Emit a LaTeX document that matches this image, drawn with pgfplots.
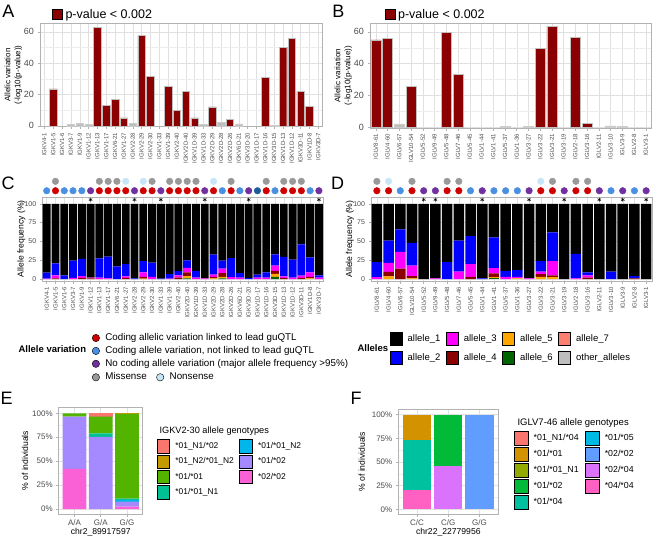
\documentclass[border=0pt]{standalone}
\usepackage{fontspec}
\setmainfont{Liberation Sans}
\usepackage{pgfplots}
\usepackage{pgfplotstable}
\pgfplotsset{compat=1.18}

\definecolor{sigred}{HTML}{8B0000}
\definecolor{nsgray}{HTML}{BEBEBE}
\definecolor{dotred}{HTML}{D00000}
\definecolor{dotblue}{HTML}{4A90E2}
\definecolor{dotpurple}{HTML}{7030A0}
\definecolor{dotdark}{HTML}{1E5C99}
\definecolor{dotgray}{HTML}{999999}
\definecolor{dotlight}{HTML}{C6E6F8}
\definecolor{alA}{HTML}{000000}
\definecolor{alB}{HTML}{0000FF}
\definecolor{alC}{HTML}{FF00FF}
\definecolor{alD}{HTML}{8B0000}
\definecolor{alE}{HTML}{FFA500}
\definecolor{alF}{HTML}{006400}
\definecolor{alG}{HTML}{FA8072}
\definecolor{alO}{HTML}{BEBEBE}
\definecolor{eA}{HTML}{F8766D}
\definecolor{eB}{HTML}{C49A00}
\definecolor{eC}{HTML}{53B400}
\definecolor{eD}{HTML}{00C094}
\definecolor{eE}{HTML}{00B6EB}
\definecolor{eF}{HTML}{A58AFF}
\definecolor{eG}{HTML}{FB61D7}
\definecolor{fA}{HTML}{F8766D}
\definecolor{fB}{HTML}{D39200}
\definecolor{fC}{HTML}{93AA00}
\definecolor{fD}{HTML}{00BA38}
\definecolor{fE}{HTML}{00C19F}
\definecolor{fF}{HTML}{00B9E3}
\definecolor{fG}{HTML}{619CFF}
\definecolor{fH}{HTML}{DB72FB}
\definecolor{fI}{HTML}{FF61C3}

\pgfplotsset{
  gg/.style={
    scale only axis,
    enlargelimits=false,
    axis line style={draw=black!30, line width=0.7pt},
    tick style={draw=black!30, line width=0.5pt},
    tick align=outside,
    tick pos=left,
    major tick length=2.5pt,
    minor tick length=0pt,
    major grid style={draw=black!12, line width=0.45pt},
    minor grid style={draw=black!7, line width=0.3pt},
    tick label style={text=black!70},
    /pgf/number format/assume math mode=true,
  },
  legaxis/.style={
    hide axis, scale only axis, width=1pt, height=1pt,
    xmin=0, xmax=1, ymin=0, ymax=1, anchor=north west,
    legend cell align=left,
    legend style={at={(0,1)}, anchor=north west, draw=none, fill=none,
      inner sep=0pt, outer sep=0pt, column sep=0pt, text=black},
  },
}

\pgfplotstableread{
i a6 a5 a4 a3 a2 a1
1 0 0 0 0.5 8 91.5
2 0 0 1 4 16 79
3 0 0 0 0 5 95
4 0 0 0 1.5 23 75.5
5 0 0 1.5 2.5 23 73
6 0 0 1 1 0 98
7 0 0 0 2 25.5 72.5
8 0 0 0 1 29 70
9 0 0 0 0 17 83
10 0 0 1.5 2 16.5 80
11 0 0 0 0 1 99
12 0 0.5 2.5 6 15 76
13 0 0 0 3 19 78
14 0 0 0 0 0.5 99.5
15 0 0 0 0.5 6 93.5
16 0 0 2 3 5.5 89.5
17 1 3 5 6 10 75
18 0 0 0 2 9 89
19 0 0 0 1 0 99
20 0 1 2 3 26.5 67.5
21 1 2 5 6 10.5 75.5
22 0 0 0 2.5 25.5 72
23 0 0 0 2 6 92
24 0 0 0 0 1.5 98.5
25 0 0 0 2 4 94
26 0 0 0 2 7 91
27 3 4 4 7 15 67
28 0 0 1.5 2 26 70.5
29 0 0 0 2 24 74
30 0 0 1.5 3 41.5 54
31 0 1 2 6 20 71
32 0 0 0 2 3 95
}\Ctab

\pgfplotstableread{
i a6 a5 a4 a3 a2 a1
1 0 0 0 2.5 20 77.5
2 0 3.5 6 12 29.5 49
3 0 0 14 22 30 34
4 0 1 3 14 30 52
5 0 0 0 0 0 100
6 0 0 0 1 0 99
7 0 0 0 0 22.5 77.5
8 0 0 0 10 41 49
9 0 0 3 17 37 43
10 0 0 0 0 1 99
11 1 1.5 5 7 41 44.5
12 0 0 0 3 8 89
13 0 1 0 2 9 88
14 0 0 0 1 0 99
15 0 3 3.5 3.5 14 76
16 0 2.5 2.5 19 38 38
17 0 0 0 0 0 100
18 0 0 0 1 32.5 66.5
19 0 0 2 3 4 91
20 0 0 0 0 0 100
21 0 0 0 0 10 90
22 0 0 0 0 0 100
23 0 0 1 0 3 96
24 0 0 0 0 0 100
}\Dtab

\def\KL{IGKV4-1,IGKV1-5,IGKV1-6,IGKV3-7,IGKV1-9,IGKV1-12,IGKV1-13,IGKV1-17,IGKV6-21,IGKV1-27,IGKV2-28,IGKV2-29,IGKV2-30,IGKV1-33,IGKV1-39,IGKV2-40,IGKV2D-40,IGKV1D-39,IGKV1D-33,IGKV2D-29,IGKV2D-28,IGKV2D-26,IGKV6D-21,IGKV3D-20,IGKV1D-17,IGKV1D-16,IGKV3D-15,IGKV1D-13,IGKV1D-12,IGKV3D-11,IGKV1D-8,IGKV3D-7}
\def\LL{IGLV8-61,IGLV4-60,IGLV6-57,IGLV10-54,IGLV5-52,IGLV9-49,IGLV5-48,IGLV7-46,IGLV5-45,IGLV1-44,IGLV1-41,IGLV5-37,IGLV1-36,IGLV3-27,IGLV3-22,IGLV3-21,IGLV3-19,IGLV2-18,IGLV3-16,IGLV2-11,IGLV3-10,IGLV3-9,IGLV2-8,IGLV3-1}

\begin{document}
\begin{tikzpicture}[x=1pt,y=1pt]
\path[use as bounding box] (0,0) rectangle (660,-556);

% ---------------- Panel A ----------------
\begin{axis}[gg, at={(40pt,-126.7pt)}, anchor=south west, width=282.7pt, height=103.4pt,
  xmin=0.5, xmax=32.5, ymin=-0.6, ymax=65.4,
  xtick={1,...,32}, xticklabels/.expand once={\KL},
  xticklabel style={rotate=90, anchor=east, font=\fontsize{6}{7}\selectfont},
  ytick={0,20,40,60}, minor ytick={10,30,50},
  yticklabel style={font=\fontsize{9}{10}\selectfont},
  xmajorgrids, ymajorgrids, yminorgrids,
  legend style={at={(axis description cs:0.0414,1.087)}, anchor=west, draw=none, fill=none,
    inner sep=0pt, font=\fontsize{12.5}{14}\selectfont, nodes={inner sep=0pt, anchor=west},
    /tikz/every odd column/.append style={column sep=3pt}},
  legend image code/.code={\draw[fill=sigred, draw=black, line width=0.6pt] (0pt,-5pt) rectangle (10pt,5pt);},
]
\addplot[ybar, bar width=0.85, bar shift=0pt, fill=sigred, draw=black!25, line width=0.4pt]
  coordinates {(2,23.5)(7,63)(8,13)(9,17)(10,5)(12,57.5)(13,31.5)(15,25)(16,10)(17,22)(18,5)(20,12)(22,4)(26,31)(28,50)(29,56)(30,22)(31,12.5)};
\addlegendentry{p-value < 0.002}
\addplot[ybar, bar width=0.85, bar shift=0pt, fill=nsgray, draw=black!20, line width=0.4pt, forget plot]
  coordinates {(4,0.8)(5,1.5)(6,1)(11,1.5)(19,0.8)(21,2)(23,1.2)(27,0.3)};
\end{axis}

% ---------------- Panel B ----------------
\begin{axis}[gg, at={(370pt,-128pt)}, anchor=south west, width=281.7pt, height=104.7pt,
  xmin=0.5, xmax=24.5, ymin=-0.6, ymax=65.4,
  xtick={1,...,24}, xticklabels/.expand once={\LL},
  xticklabel style={rotate=90, anchor=east, font=\fontsize{6}{7}\selectfont},
  ytick={0,20,40,60}, minor ytick={10,30,50},
  yticklabel style={font=\fontsize{9}{10}\selectfont},
  xmajorgrids, ymajorgrids, yminorgrids,
  legend style={at={(axis description cs:0.0508,1.086)}, anchor=west, draw=none, fill=none,
    inner sep=0pt, font=\fontsize{12.5}{14}\selectfont, nodes={inner sep=0pt, anchor=west},
    /tikz/every odd column/.append style={column sep=3pt}},
  legend image code/.code={\draw[fill=sigred, draw=black, line width=0.6pt] (0pt,-5pt) rectangle (10pt,5pt);},
]
\addplot[ybar, bar width=0.85, bar shift=0pt, fill=sigred, draw=black!25, line width=0.4pt]
  coordinates {(1,55)(2,56)(4,25.5)(7,59.5)(8,33)(15,49.5)(16,63.5)(18,56.5)(19,2.5)};
\addlegendentry{p-value < 0.002}
\addplot[ybar, bar width=0.85, bar shift=0pt, fill=nsgray, draw=black!20, line width=0.4pt, forget plot]
  coordinates {(3,2)(12,0.5)(14,0.5)(21,0.8)(22,0.4)};
\end{axis}

% ---------------- Panel C ----------------
\begin{axis}[gg, at={(42.3pt,-281pt)}, anchor=south west, width=281pt, height=83.7pt,
  xmin=0.5, xmax=32.5, ymin=-2.5, ymax=108.6,
  ybar stacked, bar width=0.9,
  xtick={1,...,32}, xticklabels/.expand once={\KL},
  xticklabel style={rotate=90, anchor=east, font=\fontsize{6}{7}\selectfont},
  ytick={0,25,50,75,100},
  yticklabel style={font=\fontsize{7}{8}\selectfont},
  xmajorgrids, ymajorgrids,
]
\addplot[fill=alF, draw=none] table[x=i, y=a6] {\Ctab};
\addplot[fill=alE, draw=none] table[x=i, y=a5] {\Ctab};
\addplot[fill=alD, draw=none] table[x=i, y=a4] {\Ctab};
\addplot[fill=alC, draw=none] table[x=i, y=a3] {\Ctab};
\addplot[fill=alB, draw=none] table[x=i, y=a2] {\Ctab};
\addplot[fill=alA, draw=none] table[x=i, y=a1] {\Ctab};
\end{axis}
\begin{axis}[at={(42.3pt,-281pt)}, anchor=south west, scale only axis, width=281pt, height=83.7pt,
  xmin=0.5, xmax=32.5, ymin=-2.5, ymax=108.6, hide axis, clip=false]
\addplot[only marks, mark=*, color=dotred, mark size=3.3pt] coordinates {(2,117.3)(7,117.3)(8,117.3)(9,117.3)(10,117.3)(12,117.3)(13,117.3)(15,117.3)(16,117.3)(17,117.3)(18,117.3)(20,117.3)(22,117.3)(26,117.3)(28,117.3)(29,117.3)(30,117.3)};
\addplot[only marks, mark=*, color=dotblue, mark size=3.3pt] coordinates {(1,117.3)(3,117.3)(4,117.3)(5,117.3)(21,117.3)(23,117.3)(27,117.3)(31,117.3)};
\addplot[only marks, mark=*, color=dotpurple, mark size=3.3pt] coordinates {(6,117.3)(11,117.3)(14,117.3)(19,117.3)(24,117.3)(32,117.3)};
\addplot[only marks, mark=*, color=dotdark, mark size=3.3pt] coordinates {(25,117.3)};
\addplot[only marks, mark=*, color=dotgray, mark size=3.3pt] coordinates {(2,129.8)(7,129.8)(8,129.8)(9,129.8)(13,129.8)(15,129.8)(16,129.8)(17,129.8)(18,129.8)(22,129.8)(26,129.8)(28,129.8)(29,129.8)(30,129.8)};
\addplot[only marks, mark=*, color=dotlight, mark size=3.3pt] coordinates {(10,129.8)(12,129.8)(20,129.8)};
\addplot[only marks, mark=asterisk, color=black, mark size=2pt, line width=0.5pt] coordinates {(6,105.5)(11,105.5)(14,105.5)(19,105.5)(24,105.5)(32,105.5)};
\end{axis}

% ---------------- Panel D ----------------
\begin{axis}[gg, at={(371pt,-281pt)}, anchor=south west, width=281pt, height=83.7pt,
  xmin=0.5, xmax=24.5, ymin=-2.5, ymax=108.6,
  ybar stacked, bar width=0.9,
  xtick={1,...,24}, xticklabels/.expand once={\LL},
  xticklabel style={rotate=90, anchor=east, font=\fontsize{6}{7}\selectfont},
  ytick={0,25,50,75,100},
  yticklabel style={font=\fontsize{7}{8}\selectfont},
  xmajorgrids, ymajorgrids,
]
\addplot[fill=alF, draw=none] table[x=i, y=a6] {\Dtab};
\addplot[fill=alE, draw=none] table[x=i, y=a5] {\Dtab};
\addplot[fill=alD, draw=none] table[x=i, y=a4] {\Dtab};
\addplot[fill=alC, draw=none] table[x=i, y=a3] {\Dtab};
\addplot[fill=alB, draw=none] table[x=i, y=a2] {\Dtab};
\addplot[fill=alA, draw=none] table[x=i, y=a1] {\Dtab};
\end{axis}
\begin{axis}[at={(371pt,-281pt)}, anchor=south west, scale only axis, width=281pt, height=83.7pt,
  xmin=0.5, xmax=24.5, ymin=-2.5, ymax=108.6, hide axis, clip=false]
\addplot[only marks, mark=*, color=dotred, mark size=3.3pt] coordinates {(1,117.3)(2,117.3)(4,117.3)(7,117.3)(8,117.3)(15,117.3)(16,117.3)(18,117.3)(19,117.3)};
\addplot[only marks, mark=*, color=dotblue, mark size=3.3pt] coordinates {(3,117.3)(9,117.3)(11,117.3)(12,117.3)(13,117.3)(21,117.3)(23,117.3)};
\addplot[only marks, mark=*, color=dotpurple, mark size=3.3pt] coordinates {(5,117.3)(6,117.3)(10,117.3)(14,117.3)(17,117.3)(20,117.3)(22,117.3)(24,117.3)};
\addplot[only marks, mark=*, color=dotgray, mark size=3.3pt] coordinates {(1,129.8)(4,129.8)(7,129.8)(8,129.8)(16,129.8)(18,129.8)(19,129.8)};
\addplot[only marks, mark=*, color=dotlight, mark size=3.3pt] coordinates {(2,129.8)(15,129.8)};
\addplot[only marks, mark=asterisk, color=black, mark size=2pt, line width=0.5pt] coordinates {(5,105.5)(6,105.5)(10,105.5)(14,105.5)(17,105.5)(20,105.5)(22,105.5)(24,105.5)};
\end{axis}

% ---------------- Legends for C / D ----------------
\node[anchor=west, font=\fontsize{9.5}{11}\selectfont\bfseries] at (15,-349.3) {Allele variation};
\begin{axis}[legaxis, at={(92pt,-333.5pt)},
  legend image code/.code={\fill[#1] (3.7pt,0pt) circle (3.7pt);},
  legend style={font=\fontsize{9.8}{11}\selectfont, row sep=3.9pt,
    nodes={inner sep=0pt, anchor=west, text height=7pt, text depth=2pt},
    /tikz/every odd column/.append style={column sep=5.6pt}}]
\addlegendimage{fill=dotred}\addlegendentry{Coding allelic variation linked to lead guQTL}
\addlegendimage{fill=dotblue}\addlegendentry{Coding allele variation, not linked to lead guQTL}
\addlegendimage{fill=dotpurple}\addlegendentry{No coding allele variation (major allele frequency >95\%)}
\end{axis}
\begin{axis}[legaxis, at={(92pt,-372.8pt)},
  legend columns=2,
  legend image code/.code={\fill[#1] (3.7pt,0pt) circle (3.7pt);},
  legend style={font=\fontsize{9.8}{11}\selectfont,
    nodes={inner sep=0pt, anchor=west, text height=7pt, text depth=2pt},
    /tikz/every odd column/.append style={column sep=5.6pt},
    /tikz/every even column/.append style={column sep=9.5pt}}]
\addlegendimage{fill=dotgray}\addlegendentry{Missense}
\addlegendimage{fill=dotlight}\addlegendentry{Nonsense}
\end{axis}

\node[anchor=west, font=\fontsize{9.5}{11}\selectfont\bfseries] at (354,-348.3) {Alleles};
\begin{axis}[legaxis, at={(390pt,-332.4pt)},
  legend columns=4,
  legend image code/.code={\fill[#1] (0pt,-6.25pt) rectangle (11.7pt,6.25pt);},
  legend style={font=\fontsize{9.5}{11}\selectfont, row sep=6.1pt,
    nodes={inner sep=0pt, anchor=west, text height=7pt, text depth=2pt},
    /tikz/every odd column/.append style={column sep=5.6pt},
    /tikz/every even column/.append style={column sep=5.7pt}}]
\addlegendimage{fill=alA}\addlegendentry{allele\_1}
\addlegendimage{fill=alC}\addlegendentry{allele\_3}
\addlegendimage{fill=alE}\addlegendentry{allele\_5}
\addlegendimage{fill=alG}\addlegendentry{allele\_7}
\addlegendimage{fill=alB}\addlegendentry{allele\_2}
\addlegendimage{fill=alD}\addlegendentry{allele\_4}
\addlegendimage{fill=alF}\addlegendentry{allele\_6}
\addlegendimage{fill=alO}\addlegendentry{other\_alleles}
\end{axis}

% ---------------- Panel E ----------------
\begin{axis}[gg, at={(58.7pt,-514pt)}, anchor=south west, width=84pt, height=106.5pt,
  xmin=0.4, xmax=3.6, ymin=-5, ymax=106,
  ybar stacked, bar width=0.9,
  xtick={1,2,3}, xticklabels={A/A,G/A,G/G},
  ytick={0,25,50,75,100}, yticklabels={0\%,25\%,50\%,75\%,100\%},
  minor ytick={12.5,37.5,62.5,87.5},
  tick label style={font=\fontsize{8}{9}\selectfont},
  xmajorgrids, ymajorgrids, yminorgrids,
]
\addplot[fill=eG, draw=none] coordinates {(1,42)(2,0)(3,2.8)};
\addplot[fill=eF, draw=none] coordinates {(1,54.5)(2,75.5)(3,5)};
\addplot[fill=eE, draw=none] coordinates {(1,0)(2,0)(3,1.6)};
\addplot[fill=eD, draw=none] coordinates {(1,0)(2,3.5)(3,1.6)};
\addplot[fill=eC, draw=none] coordinates {(1,3.5)(2,17.5)(3,88.3)};
\addplot[fill=eB, draw=none] coordinates {(1,0)(2,0)(3,0.7)};
\addplot[fill=eA, draw=none] coordinates {(1,0)(2,3.5)(3,0)};
\end{axis}
\node[rotate=90, font=\fontsize{8.6}{10}\selectfont] at (25,-460.7) {\% of individuals};
\node[font=\fontsize{8.6}{10}\selectfont] at (100.7,-532.7) {chr2\_89917597};
\node[anchor=west, font=\fontsize{9.2}{11}\selectfont] at (156,-430.7) {IGKV2-30 allele genotypes};
\begin{axis}[legaxis, at={(156.7pt,-439.4pt)},
  legend columns=2,
  legend image code/.code={\fill[#1] (0pt,-6.65pt) rectangle (12.7pt,6.65pt);},
  legend style={font=\fontsize{8.4}{10}\selectfont, row sep=1.6pt,
    nodes={inner sep=0pt, anchor=west, text height=6.5pt, text depth=2pt},
    /tikz/every odd column/.append style={column sep=5.6pt},
    /tikz/every even column/.append style={column sep=5.7pt}}]
\addlegendimage{fill=eA}\addlegendentry{*01\_N1/*02}
\addlegendimage{fill=eE}\addlegendentry{*01/*01\_N2}
\addlegendimage{fill=eB}\addlegendentry{*01\_N2/*01\_N2}
\addlegendimage{fill=eF}\addlegendentry{*01/*02}
\addlegendimage{fill=eC}\addlegendentry{*01/*01}
\addlegendimage{fill=eG}\addlegendentry{*02/*02}
\addlegendimage{fill=eD}\addlegendentry{*01/*01\_N1}
\end{axis}

% ---------------- Panel F ----------------
\begin{axis}[gg, at={(398.3pt,-514pt)}, anchor=south west, width=100pt, height=104.7pt,
  xmin=0.4, xmax=3.6, ymin=-5, ymax=105.7,
  ybar stacked, bar width=0.9,
  xtick={1,2,3}, xticklabels={C/C,C/G,G/G},
  ytick={0,25,50,75,100}, yticklabels={0\%,25\%,50\%,75\%,100\%},
  minor ytick={12.5,37.5,62.5,87.5},
  tick label style={font=\fontsize{8}{9}\selectfont},
  xmajorgrids, ymajorgrids, yminorgrids,
]
\addplot[fill=fI, draw=none] coordinates {(1,20)(2,0)(3,0)};
\addplot[fill=fH, draw=none] coordinates {(1,0)(2,46)(3,0)};
\addplot[fill=fG, draw=none] coordinates {(1,0)(2,0)(3,100)};
\addplot[fill=fE, draw=none] coordinates {(1,53)(2,0)(3,0)};
\addplot[fill=fD, draw=none] coordinates {(1,0)(2,54)(3,0)};
\addplot[fill=fB, draw=none] coordinates {(1,27)(2,0)(3,0)};
\end{axis}
\node[rotate=90, font=\fontsize{8.6}{10}\selectfont] at (361.7,-461.7) {\% of individuals};
\node[font=\fontsize{8.6}{10}\selectfont] at (448.3,-532.7) {chr22\_22779956};
\node[anchor=west, font=\fontsize{9.5}{11}\selectfont] at (514,-422.7) {IGLV7-46 allele genotypes};
\begin{axis}[legaxis, at={(514.3pt,-430.7pt)},
  legend columns=2,
  legend image code/.code={\fill[#1] (0pt,-7pt) rectangle (13.4pt,7pt);},
  legend style={font=\fontsize{8.8}{10}\selectfont, row sep=1.6pt,
    nodes={inner sep=0pt, anchor=west, text height=6.5pt, text depth=2pt},
    /tikz/every odd column/.append style={column sep=5.6pt},
    /tikz/every even column/.append style={column sep=6.7pt}}]
\addlegendimage{fill=fA}\addlegendentry{*01\_N1/*04}
\addlegendimage{fill=fF}\addlegendentry{*01/*05}
\addlegendimage{fill=fB}\addlegendentry{*01/*01}
\addlegendimage{fill=fG}\addlegendentry{*02/*02}
\addlegendimage{fill=fC}\addlegendentry{*01/*01\_N1}
\addlegendimage{fill=fH}\addlegendentry{*02/*04}
\addlegendimage{fill=fD}\addlegendentry{*01/*02}
\addlegendimage{fill=fI}\addlegendentry{*04/*04}
\addlegendimage{fill=fE}\addlegendentry{*01/*04}
\end{axis}

% ---------------- titles ----------------
\node[rotate=90, align=center, font=\fontsize{8}{10}\selectfont] at (13.3,-75) {Allelic variation\\(-log10(p-value))};
\node[rotate=90, align=center, font=\fontsize{8}{10}\selectfont] at (343.2,-75.7) {Allelic variation\\(-log10(p-value))};
\node[rotate=90, font=\fontsize{8.6}{10}\selectfont] at (21.5,-238.7) {Allele frequency (\%)};
\node[rotate=90, font=\fontsize{8.6}{10}\selectfont] at (350,-239) {Allele frequency (\%)};

\node[font=\fontsize{18}{20}\selectfont, inner sep=0pt] at (8.3,-11.7) {A};
\node[font=\fontsize{18}{20}\selectfont, inner sep=0pt] at (338.3,-11.7) {B};
\node[font=\fontsize{18}{20}\selectfont, inner sep=0pt] at (8,-183.3) {C};
\node[font=\fontsize{18}{20}\selectfont, inner sep=0pt] at (337.5,-183.7) {D};
\node[font=\fontsize{18}{20}\selectfont, inner sep=0pt] at (6.7,-398.3) {E};
\node[font=\fontsize{18}{20}\selectfont, inner sep=0pt] at (356,-398.8) {F};
\end{tikzpicture}
\end{document}
